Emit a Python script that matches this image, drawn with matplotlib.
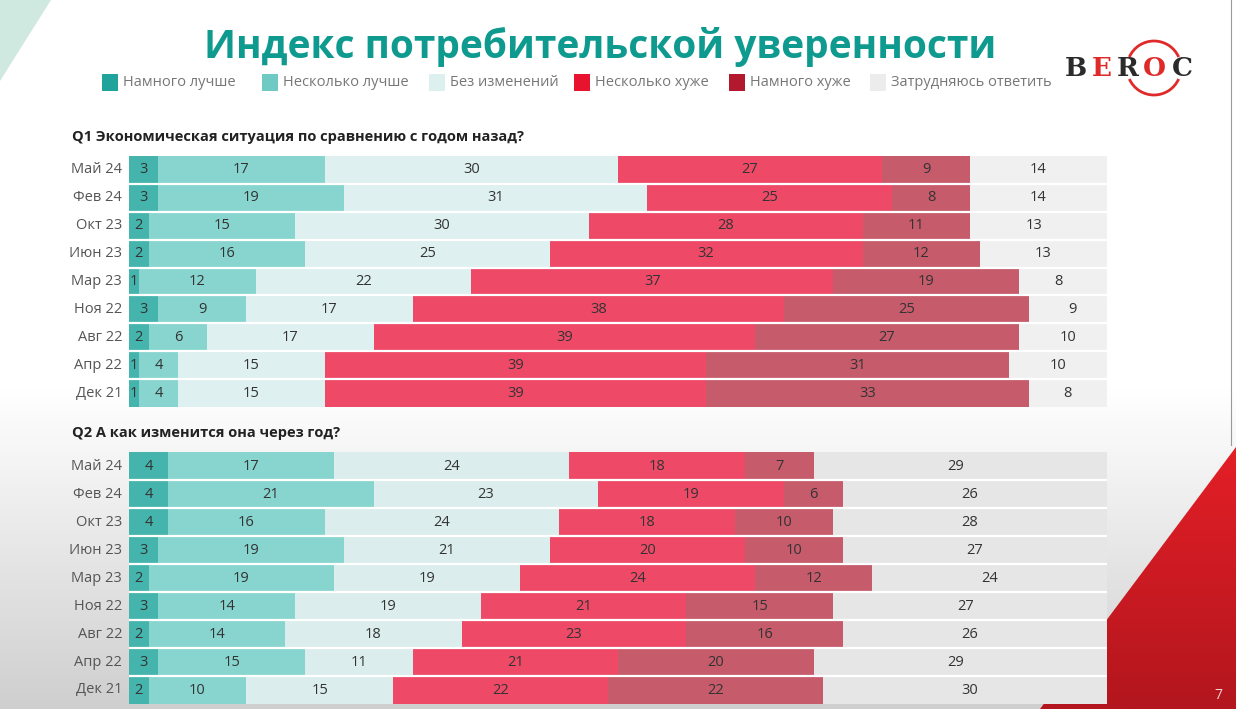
import numpy as np
import matplotlib
matplotlib.use("Agg")
import matplotlib.pyplot as plt
from matplotlib.patches import Polygon, Rectangle, Arc
from matplotlib.colors import LinearSegmentedColormap

plt.rcParams['font.family'] = ['Open Sans', 'DejaVu Sans']

# data
months = ['Май 24', 'Фев 24', 'Окт 23', 'Июн 23', 'Мар 23', 'Ноя 22', 'Авг 22', 'Апр 22', 'Дек 21']
categories = ['Намного лучше', 'Несколько лучше', 'Без изменений',
              'Несколько хуже', 'Намного хуже', 'Затрудняюсь ответить']

q1_much_better = [3, 3, 2, 2, 1, 3, 2, 1, 1]
q1_better = [17, 19, 15, 16, 12, 9, 6, 4, 4]
q1_same = [30, 31, 30, 25, 22, 17, 17, 15, 15]
q1_worse = [27, 25, 28, 32, 37, 38, 39, 39, 39]
q1_much_worse = [9, 8, 11, 12, 19, 25, 27, 31, 33]
q1_dont_know = [14, 14, 13, 13, 8, 9, 10, 10, 8]

q2_much_better = [4, 4, 4, 3, 2, 3, 2, 3, 2]
q2_better = [17, 21, 16, 19, 19, 14, 14, 15, 10]
q2_same = [24, 23, 24, 21, 19, 19, 18, 11, 15]
q2_worse = [18, 19, 18, 20, 24, 21, 23, 21, 22]
q2_much_worse = [7, 6, 10, 10, 12, 15, 16, 20, 22]
q2_dont_know = [29, 26, 28, 27, 24, 27, 26, 29, 30]

q1_title = 'Q1 Экономическая ситуация по сравнению с годом назад?'
q2_title = 'Q2 А как изменится она через год?'

legend_colors = ['#1fa39b', '#6fcac3', '#dcf1ef', '#e8132f', '#b2192f', '#ececec']
bar_colors = ['#45b4ac', '#88d5cf', '#d8f1f0', '#ee4a68', '#c55b6b', '#eeeeee']
bar_alpha = [1, 1, 0.75, 1, 1, 1]

W, H = 1236, 709
fig = plt.figure(figsize=(W / 100, H / 100), dpi=100)

# background layer in pixel coordinates
bg = fig.add_axes([0, 0, 1, 1])
bg.set_xlim(0, W)
bg.set_ylim(H, 0)
bg.axis('off')

yy = np.linspace(0, 1, 300)
shade = np.clip((yy - 0.55) / 0.45, 0, 1)
grad = np.tile(shade[:, None], (1, 2))
gcmap = LinearSegmentedColormap.from_list('g', ['#ffffff', '#cfcfcf'])
bg.imshow(grad, extent=[0, W, H, 0], aspect='auto', cmap=gcmap, vmin=0, vmax=1, zorder=0)

bg.add_patch(Polygon([(0, 0), (51, 0), (0, 81)], closed=True, color='#cfe8e0', lw=0, zorder=1))

red_poly = Polygon([(W, 447), (1040, H), (W, H)], closed=True, facecolor='none', lw=0)
bg.add_patch(red_poly)
rcmap = LinearSegmentedColormap.from_list('r', ['#e51f27', '#b3161e'])
rimg = bg.imshow(np.tile(np.linspace(0, 1, 100)[:, None], (1, 2)),
                 extent=[1030, W, H, 440], aspect='auto', cmap=rcmap, zorder=1)
rimg.set_clip_path(red_poly)
bg.plot([1231, 1231], [0, 445], color='#9a9a9a', lw=0.8, zorder=1)
bg.text(1218, 703, '7', color='#f3d6d6', fontsize=10, ha='center', va='bottom', zorder=2)

bg.text(600, 47, 'Индекс потребительской уверенности', color='#0f9a8f',
        fontsize=28, fontweight='bold', ha='center', va='center', zorder=2)

legend_x = [102, 262, 429, 574, 729, 870]
for x, lab, col in zip(legend_x, categories, legend_colors):
    bg.add_patch(Rectangle((x, 74), 16, 17, color=col, lw=0, zorder=2))
    bg.text(x + 21, 83, lab, color='#777777', fontsize=10.5, ha='left', va='center', zorder=2)

# BEROC logo
for ch, x, col in zip('BEROC', [1076, 1102, 1128, 1154, 1182],
                      ['#2b2b2b', '#e02a2a', '#2b2b2b', '#e02a2a', '#2b2b2b']):
    bg.text(x, 69, ch, color=col, fontsize=19, family='DejaVu Serif', fontweight='bold',
            ha='center', va='center', zorder=3)
for t1, t2 in [(24, 156), (204, 336)]:
    bg.add_patch(Arc((1154, 68), 54, 54, theta1=t1, theta2=t2, color='#e02a2a', lw=2, zorder=3))

bg.text(72, 137, q1_title, color='#222222', fontsize=10.5, fontweight='bold', va='center', zorder=2)
bg.text(72, 433, q2_title, color='#222222', fontsize=10.5, fontweight='bold', va='center', zorder=2)


def draw_panel(rect, series, dk_color):
    ax = fig.add_axes(rect)
    ax.set_xlim(0, 100)
    ax.set_ylim(len(months) - 0.5, -0.5)
    ax.axis('off')
    ax.patch.set_alpha(0)
    y = np.arange(len(months))
    left = np.zeros(len(months))
    colors = bar_colors[:5] + [dk_color]
    ax.barh(y, 100, height=1.0, color=dk_color, lw=0)
    for k, vals in enumerate(series):
        vals = np.array(vals, dtype=float)
        ax.barh(y, vals, left=left, height=1.0, color=colors[k], alpha=bar_alpha[k], lw=0)
        for i, v in enumerate(vals):
            ax.text(left[i] + v / 2, y[i], f'{v:.0f}', ha='center', va='center',
                    fontsize=10.5, color='#333333')
        left += vals
    for b in np.arange(len(months) - 1) + 0.5:
        ax.axhline(b, color='white', lw=1.6)
    for i, m in enumerate(months):
        ax.text(-0.7, y[i], m, ha='right', va='center', fontsize=10.5, color='#555555', clip_on=False)
    return ax


draw_panel([129 / W, 1 - 407 / H, (1107 - 129) / W, 251 / H],
           [q1_much_better, q1_better, q1_same, q1_worse, q1_much_worse, q1_dont_know], '#f0f0f0')
draw_panel([129 / W, 1 - 704 / H, (1107 - 129) / W, 252 / H],
           [q2_much_better, q2_better, q2_same, q2_worse, q2_much_worse, q2_dont_know], '#e6e6e6')

fig.savefig('out.png', dpi=100)
